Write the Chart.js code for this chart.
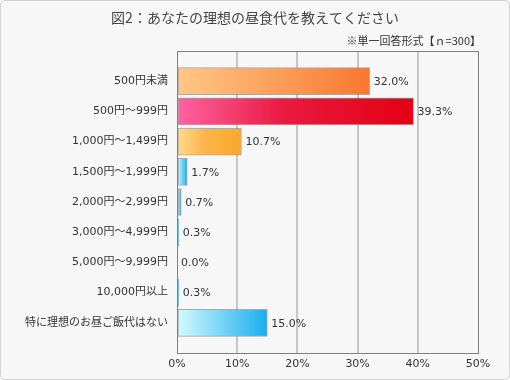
<!DOCTYPE html>
<html>
<head>
<meta charset="utf-8">
<script src="https://cdn.jsdelivr.net/npm/chart.js@4"></script>
<style>
html,body{margin:0;padding:0;background:#fff;}
#wrap{width:510px;height:380px;position:relative;}
</style>
</head>
<body>
<div id="wrap"><canvas id="c" width="510" height="380"></canvas></div>
<script>
const titleText = '図2：あなたの理想の昼食代を教えてください';
const subtitleText = '※単一回答形式【ｎ=300】';
const categories = ['500円未満','500円～999円','1,000円～1,499円','1,500円～1,999円','2,000円～2,999円','3,000円～4,999円','5,000円～9,999円','10,000円以上','特に理想のお昼ご飯代はない'];
const values = [32.0, 39.3, 10.7, 1.7, 0.7, 0.3, 0.0, 0.3, 15.0];
const xTicks = [0, 10, 20, 30, 40, 50];

const FONT = '"Noto Sans CJK JP", "Noto Sans", sans-serif';
const MIX = '"DejaVu Sans", "Noto Sans CJK JP", sans-serif';

const gradStops = [
  [[0,'#ffc887'],[1,'#f8772e']],
  [[0,'#ff62a3'],[0.45,'#ea1a40'],[1,'#e40013']],
  [[0,'#ffdb8e'],[0.45,'#fbb447'],[1,'#f8a92e']],
  [[0,'#d4faff'],[1,'#18aeee']]
];
function stopsFor(i){ return i < 3 ? gradStops[i] : gradStops[3]; }

const bgPlugin = {
  id: 'bg',
  beforeDraw(chart){
    const c = chart.ctx;
    c.save();
    c.fillStyle = '#f7f7f7';
    c.beginPath();
    c.roundRect(0.5, 0.5, chart.width-1, chart.height-1, 4);
    c.fill();
    c.strokeStyle = '#d2d2d2';
    c.lineWidth = 1;
    c.stroke();
    c.restore();
  },
  afterDraw(chart){
    const c = chart.ctx;
    const a = chart.chartArea;
    c.save();
    c.strokeStyle = '#808080';
    c.lineWidth = 1;
    c.strokeRect(Math.round(a.left)+0.5, Math.round(a.top)+0.5, Math.round(a.right-a.left), Math.round(a.bottom-a.top));
    // titles
    c.fillStyle = '#444';
    c.font = '14px ' + FONT;
    c.textAlign = 'center';
    c.textBaseline = 'middle';
    c.fillText(titleText, 255, 18);
    c.font = '11px ' + FONT;
    c.fillStyle = '#333';
    c.textAlign = 'right';
    c.fillText(subtitleText, 481, 41);
    // value labels
    const meta = chart.getDatasetMeta(0);
    c.font = '11px ' + MIX;
    c.fillStyle = '#333';
    c.textAlign = 'left';
    meta.data.forEach((bar, i) => {
      const x = chart.scales.x.getPixelForValue(values[i]);
      c.fillText(values[i].toFixed(1) + '%', x + 4, bar.y + 1);
    });
    c.restore();
  }
};

new Chart(document.getElementById('c'), {
  type: 'bar',
  data: {
    datasets: [{
      data: values.map((v, i) => ({x: v, y: i})),
      barThickness: 27,
      borderWidth: 1,
      borderColor: 'rgba(105,105,105,0.55)',
      borderSkipped: false,
      backgroundColor(ctx){
        const chart = ctx.chart;
        const xs = chart.scales && chart.scales.x;
        if (!xs || !chart.chartArea || ctx.dataIndex === undefined) return '#18aeee';
        const x0 = xs.getPixelForValue(0);
        const x1 = Math.max(xs.getPixelForValue(values[ctx.dataIndex]), x0 + 1);
        const g = chart.ctx.createLinearGradient(x0, 0, x1, 0);
        stopsFor(ctx.dataIndex).forEach(s => g.addColorStop(s[0], s[1]));
        return g;
      }
    }]
  },
  options: {
    indexAxis: 'y',
    responsive: false,
    animation: false,
    events: [],
    layout: { padding: { top: 51, right: 32, left: 0, bottom: 0 } },
    plugins: { legend: { display: false }, tooltip: { enabled: false }, title: { display: false } },
    scales: {
      x: {
        type: 'linear',
        min: 0, max: 50,
        afterBuildTicks(scale){ scale.ticks = xTicks.map(v => ({value: v})); },
        afterFit(scale){ scale.height = 27; scale.paddingRight = 0; scale.paddingLeft = 0; },
        border: { display: false },
        grid: {
          drawTicks: false,
          lineWidth: 2,
          color(ctx){ return (ctx.tick && (ctx.tick.value === 0 || ctx.tick.value === 50)) ? 'rgba(0,0,0,0)' : '#c6c6c6'; }
        },
        ticks: {
          padding: 5,
          color: '#333',
          font: { family: MIX, size: 11 },
          callback: v => v + '%'
        }
      },
      y: {
        type: 'linear',
        reverse: true,
        offset: false,
        min: -1, max: 9,
        afterBuildTicks(scale){ scale.ticks = categories.map((_, i) => ({value: i})); },
        afterFit(scale){ scale.width = 177; scale.paddingTop = 0; scale.paddingBottom = 0; },
        border: { display: false },
        grid: { display: false, drawTicks: false, offset: false },
        ticks: {
          padding: 9,
          color: '#333',
          font: { family: MIX, size: 11 },
          callback: v => categories[v] !== undefined ? categories[v] : ''
        }
      }
    }
  },
  plugins: [bgPlugin]
});
</script>
</body>
</html>
